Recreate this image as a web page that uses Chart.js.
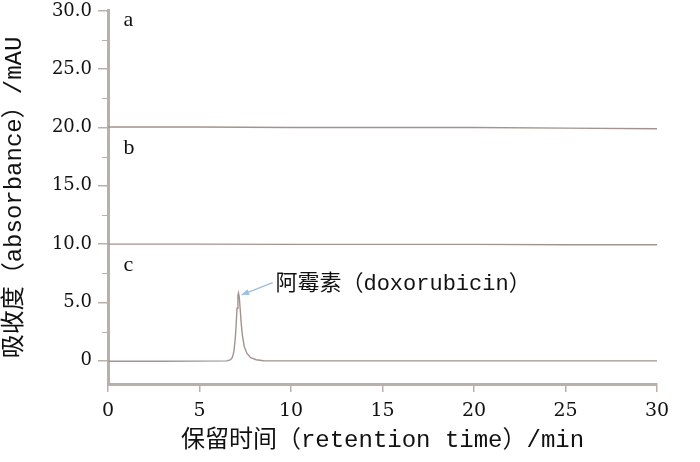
<!DOCTYPE html>
<html>
<head>
<meta charset="utf-8">
<script src="https://cdn.jsdelivr.net/npm/chart.js@4.4.0/dist/chart.umd.min.js"></script>
<style>
  html, body { margin: 0; padding: 0; background: #fff; }
  #wrap { width: 700px; height: 462px; }
</style>
</head>
<body>
<div id="wrap"><canvas id="chromChart" width="700" height="462"></canvas></div>
<script>
// retention time (min) and absorbance (mAU)
const timeA = [0, 5, 10, 15, 20, 25, 30];
const traceA = [20.05, 20.05, 20.0, 20.0, 20.0, 19.95, 19.9];

const timeB = [0, 5, 10, 15, 20, 25, 30];
const traceB = [10.0, 10.0, 9.98, 9.98, 9.98, 9.95, 9.95];

const timeC = [0, 3, 6.5, 6.7, 6.8, 6.88, 6.95, 7.0, 7.05, 7.1, 7.13, 7.17, 7.22, 7.28, 7.35, 7.45, 7.6, 7.8, 8.1, 8.5, 15, 20, 25, 30];
const traceC = [-0.05, -0.05, -0.02, 0.08, 0.3, 0.8, 1.8, 3.0, 4.5, 5.6, 5.8, 5.5, 4.5, 3.2, 2.1, 1.2, 0.6, 0.25, 0.08, 0, -0.02, -0.02, -0.02, -0.02];

const yTicks = [0, 5, 10, 15, 20, 25, 30];
const yMinorTicks = [2.5, 7.5, 12.5, 17.5, 22.5, 27.5];

// trace labels and peak annotation, in data units
const traceLabels = [
  { text: 'a', x: 0.85, y: 29.2 },
  { text: 'b', x: 0.85, y: 18.25 },
  { text: 'c', x: 0.85, y: 8.2 }
];
const peakNote = { text: '阿霉素（doxorubicin）', x: 9.15, y: 6.6 };
const peakArrow = { x0: 9.0, y0: 6.7, x1: 7.3, y1: 5.65 };

const toPoints = (xs, ys) => xs.map((x, i) => ({ x: x, y: ys[i] }));

const axisColor = '#b9b0ab';
const traceColor = '#a3938f';
const monoCJK = '"Liberation Mono", "Noto Sans CJK SC", monospace';

const annotations = {
  id: 'annotations',
  afterDatasetsDraw(chart) {
    const { ctx, scales: { x, y } } = chart;
    ctx.save();

    // minor ticks on the y axis
    ctx.strokeStyle = axisColor;
    ctx.lineWidth = 1;
    yMinorTicks.forEach(v => {
      const py = Math.round(y.getPixelForValue(v)) + 0.5;
      ctx.beginPath();
      ctx.moveTo(x.left - 6, py);
      ctx.lineTo(x.left - 1, py);
      ctx.stroke();
    });

    // a / b / c
    ctx.fillStyle = '#111';
    ctx.font = '22px "Liberation Serif", serif';
    ctx.textAlign = 'left';
    ctx.textBaseline = 'middle';
    traceLabels.forEach(l => {
      ctx.fillText(l.text, x.getPixelForValue(l.x), y.getPixelForValue(l.y));
    });

    // arrow to the peak
    const ax0 = x.getPixelForValue(peakArrow.x0), ay0 = y.getPixelForValue(peakArrow.y0);
    const ax1 = x.getPixelForValue(peakArrow.x1), ay1 = y.getPixelForValue(peakArrow.y1);
    ctx.strokeStyle = '#9bbfdc';
    ctx.fillStyle = '#9bbfdc';
    ctx.lineWidth = 1.3;
    ctx.beginPath();
    ctx.moveTo(ax0, ay0);
    ctx.lineTo(ax1, ay1);
    ctx.stroke();
    const ang = Math.atan2(ay1 - ay0, ax1 - ax0);
    ctx.beginPath();
    ctx.moveTo(ax1, ay1);
    ctx.lineTo(ax1 - 8 * Math.cos(ang - 0.4), ay1 - 8 * Math.sin(ang - 0.4));
    ctx.lineTo(ax1 - 8 * Math.cos(ang + 0.4), ay1 - 8 * Math.sin(ang + 0.4));
    ctx.closePath();
    ctx.fill();

    ctx.fillStyle = '#111';
    ctx.font = '22px ' + monoCJK;
    ctx.fillText(peakNote.text, x.getPixelForValue(peakNote.x), y.getPixelForValue(peakNote.y));

    ctx.restore();
  }
};

const ctx = document.getElementById('chromChart').getContext('2d');

const lineStyle = {
  borderColor: traceColor,
  borderWidth: 1.4,
  pointRadius: 0,
  tension: 0,
  fill: false
};

new Chart(ctx, {
  type: 'line',
  data: {
    datasets: [
      { label: 'a', data: toPoints(timeA, traceA), ...lineStyle },
      { label: 'b', data: toPoints(timeB, traceB), ...lineStyle },
      { label: 'c', data: toPoints(timeC, traceC), ...lineStyle }
    ]
  },
  options: {
    responsive: false,
    animation: false,
    layout: { padding: { top: 0, right: 43, left: 0, bottom: 0 } },
    plugins: {
      legend: { display: false },
      tooltip: { enabled: false }
    },
    scales: {
      x: {
        type: 'linear',
        min: 0,
        max: 30,
        afterFit: scale => { scale.height = 78; },
        ticks: {
          stepSize: 5,
          color: '#111',
          padding: 8,
          font: { family: '"DejaVu Serif", serif', size: 19 }
        },
        grid: { drawOnChartArea: false, tickLength: 8, color: axisColor, lineWidth: 1.5 },
        border: { color: axisColor, width: 3 },
        title: {
          display: true,
          text: '保留时间（retention time）/min',
          color: '#111',
          font: { family: monoCJK, size: 24 },
          padding: { top: 7, bottom: 7 }
        }
      },
      y: {
        min: -2,
        max: 30,
        afterFit: scale => { scale.width = 108; },
        afterBuildTicks: scale => { scale.ticks = yTicks.map(v => ({ value: v })); },
        ticks: {
          color: '#111',
          padding: 6,
          font: { family: '"DejaVu Serif", serif', size: 18, lineHeight: 0.55 },
          callback: v => (v === 0 ? '0' : v.toFixed(1))
        },
        grid: { drawOnChartArea: false, tickLength: 10, color: axisColor, lineWidth: 1.5 },
        border: { color: axisColor, width: 3 },
        title: {
          display: true,
          text: '吸收度（absorbance）/mAU',
          color: '#111',
          font: { family: monoCJK, size: 24 },
          padding: { top: 0, bottom: 0 }
        }
      }
    }
  },
  plugins: [annotations]
});
</script>
</body>
</html>
